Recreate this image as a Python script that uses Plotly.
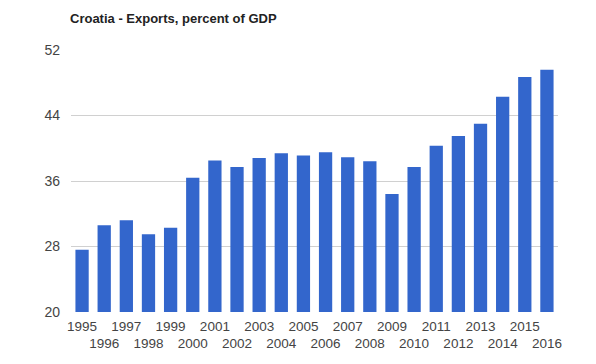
import plotly.graph_objects as go

years = [str(y) for y in range(1995, 2017)]
exports_pct_gdp = [27.6, 30.6, 31.2, 29.5, 30.3, 36.4, 38.5, 37.7, 38.8, 39.4, 39.1,
                   39.5, 38.9, 38.4, 34.4, 37.7, 40.3, 41.5, 43.0, 46.3, 48.7, 49.6]
tick_labels = [y if i % 2 == 0 else "<br>" + y for i, y in enumerate(years)]
y_ticks = [20, 28, 36, 44, 52]

# page body has an 8px default margin, so the figure is sized to fit the window
W, H = 588, 356

fig = go.Figure(go.Bar(x=years, y=exports_pct_gdp, marker=dict(color="#3366cc", line=dict(width=0))))

fig.update_layout(
    width=W, height=H,
    margin=dict(l=63, r=38, t=42, b=52, autoexpand=False),
    paper_bgcolor="white", plot_bgcolor="white",
    bargap=0.4,
    showlegend=False,
    font=dict(family="Liberation Sans, Arial, sans-serif", size=14, color="#444444"),
    title=dict(text="<b>Croatia - Exports, percent of GDP</b>", x=62/W, xanchor="left",
               xref="container", y=1 - 10/H, yanchor="middle", yref="container",
               font=dict(size=13, color="#222222", family="Liberation Sans, Arial, sans-serif")),
    xaxis=dict(type="category", tickmode="array", tickvals=years, ticktext=tick_labels,
               showgrid=False, showline=False, ticks="", tickangle=0, automargin=False,
               ticklabelstandoff=4,
               tickfont=dict(size=13.5, color="#444444")),
    yaxis=dict(range=[20, 52], tickvals=y_ticks, showgrid=True, gridcolor="#d0d0d0",
               gridwidth=1, zeroline=False, showline=False, ticks="", automargin=False,
               ticklabelstandoff=10,
               tickfont=dict(size=14, color="#444444")),
)

fig.write_html("out.html")
